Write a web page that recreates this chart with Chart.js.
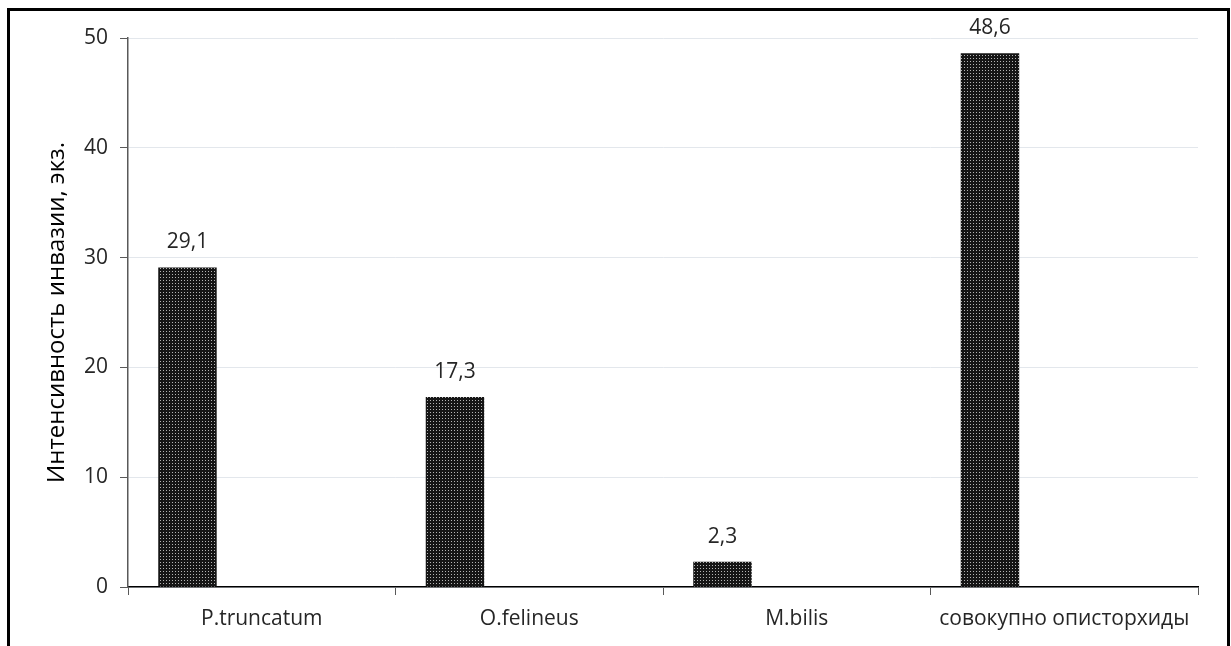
<!DOCTYPE html>
<html lang="ru">
<head>
<meta charset="utf-8">
<title>Интенсивность инвазии</title>
<script src="https://cdn.jsdelivr.net/npm/chart.js@4.4.1/dist/chart.umd.min.js"></script>
<style>
    html, body { margin: 0; padding: 0; background: #fff; overflow: hidden; }
    #wrap { position: relative; width: 1231px; height: 646px; }
    #frame {
        position: absolute; left: 7px; top: 8px;
        width: 1217px; height: 700px;
        border: 3px solid #000; border-bottom: none;
        pointer-events: none;
    }
</style>
</head>
<body>
<div id="wrap">
    <canvas id="invasion-chart" width="1231" height="646"></canvas>
    <div id="frame"></div>
</div>
<script>
(function(){
    // Categories and values
    const CATEGORIES = ['P.truncatum', 'O.felineus', 'M.bilis', 'совокупно описторхиды'];
    const INTENSITY = [29.1, 17.3, 2.3, 48.6];
    // two blank series keep the bar in the left part of each category
    const BLANK_A = [null, null, null, null];
    const BLANK_B = [null, null, null, null];
    const Y_TICKS = [0, 10, 20, 30, 40, 50];

    const FONT = "'Open Sans', 'Noto Sans', sans-serif";

    /**
     * Dotted fill for bars: dark tile with a light dot.
     */
    function dotPattern(ctx){
        var tile = document.createElement('canvas');
        tile.width = 3; tile.height = 3;
        var t = tile.getContext('2d');
        t.fillStyle = '#151515';
        t.fillRect(0, 0, 3, 3);
        t.fillStyle = '#b4b4b4';
        t.fillRect(1, 1, 1, 1);
        return ctx.createPattern(tile, 'repeat');
    }

    /**
     * Value labels above the bars, decimal comma.
     */
    const valueLabels = {
        id: 'valueLabels',
        afterDatasetsDraw: function(chart){
            var ctx = chart.ctx;
            var meta = chart.getDatasetMeta(0);
            ctx.save();
            ctx.font = '21px ' + FONT;
            ctx.fillStyle = '#262626';
            ctx.textAlign = 'center';
            ctx.textBaseline = 'middle';
            meta.data.forEach(function(bar, i){
                var v = INTENSITY[i];
                ctx.fillText(v.toFixed(1).replace('.', ','), bar.x, bar.y - 25);
            });
            ctx.restore();
        }
    };

    var ctx = document.getElementById('invasion-chart').getContext('2d');
    var fill = dotPattern(ctx);

    new Chart(ctx, {
        type: 'bar',
        data: {
            labels: CATEGORIES,
            datasets: [
                { data: INTENSITY, backgroundColor: fill, borderWidth: 0 },
                { data: BLANK_A, backgroundColor: fill, borderWidth: 0 },
                { data: BLANK_B, backgroundColor: fill, borderWidth: 0 }
            ]
        },
        options: {
            responsive: false,
            animation: false,
            categoryPercentage: 0.833,
            barPercentage: 0.787,
            layout: { padding: { top: 38, right: 33, left: 0, bottom: 0 } },
            plugins: {
                legend: { display: false },
                tooltip: { enabled: false }
            },
            scales: {
                x: {
                    grid: {
                        offset: true,
                        drawOnChartArea: false,
                        tickLength: 8,
                        tickColor: '#595959'
                    },
                    border: { color: '#000', width: 1.5 },
                    ticks: {
                        color: '#262626',
                        font: { family: FONT, size: 21 },
                        padding: 11,
                        maxRotation: 0
                    },
                    afterFit: function(scale){ scale.height = 59; }
                },
                y: {
                    min: 0,
                    max: 50,
                    afterBuildTicks: function(scale){
                        scale.ticks = Y_TICKS.map(function(v){ return { value: v }; });
                    },
                    grid: {
                        color: '#e3e7ec',
                        tickLength: 8,
                        tickColor: '#595959'
                    },
                    border: { color: '#595959', width: 1.5 },
                    ticks: {
                        color: '#262626',
                        font: { family: FONT, size: 21 },
                        padding: 12
                    },
                    title: {
                        display: true,
                        text: 'Интенсивность инвазии, экз.',
                        color: '#000',
                        font: { family: FONT, size: 24 },
                        padding: { top: 43, bottom: 0 }
                    },
                    afterFit: function(scale){ scale.width = 128; }
                }
            }
        },
        plugins: [valueLabels]
    });
})();
</script>
</body>
</html>
